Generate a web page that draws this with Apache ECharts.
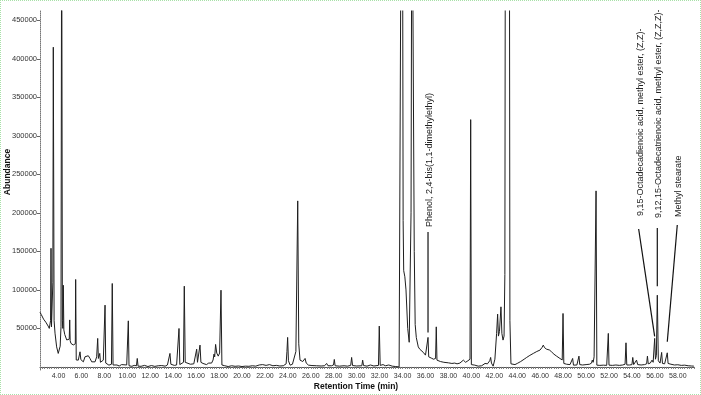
<!DOCTYPE html>
<html>
<head>
<meta charset="utf-8">
<script src="https://cdn.jsdelivr.net/npm/echarts@6/dist/echarts.min.js"></script>
<style>
html,body{margin:0;padding:0;background:#fff;}
#wrap{position:relative;width:701px;height:395px;}
#chart{width:701px;height:395px;}
#frame{position:absolute;left:0;top:0;width:701px;height:395px;box-sizing:border-box;border:1px dotted #a8e0a8;pointer-events:none;}
</style>
</head>
<body>
<div id="wrap"><div id="chart"></div><div id="frame"></div></div>
<script>
// Retention times (min)
const retentionTimes = [
2.39,2.5,2.6,2.7,2.8,2.9,3.0,3.1,3.2,3.27,3.31,3.35,3.39,3.45,3.51,3.55,3.62,3.7,3.84,3.98,
4.08,4.15,4.22,4.28,4.34,4.38,4.42,4.47,4.55,4.72,4.86,4.94,4.98,5.02,5.09,5.29,5.43,5.47,5.5,5.55,
5.59,5.73,5.88,5.95,6.03,6.17,6.31,6.46,6.6,6.75,6.9,7.04,7.19,7.33,7.42,7.48,7.56,7.6,7.66,7.71,
7.91,7.99,8.06,8.12,8.25,8.4,8.62,8.69,8.76,8.9,9.1,9.3,9.5,9.65,9.95,10.03,10.09,10.15,10.4,10.6,
10.8,10.87,10.94,11.2,11.5,11.8,12.1,12.4,12.7,13.0,13.3,13.5,13.66,13.72,13.8,14.1,14.3,14.45,14.51,14.58,
14.75,14.9,14.97,15.05,15.2,15.5,15.8,15.95,16.05,16.12,16.26,16.34,16.42,16.6,16.9,17.1,17.21,17.35,17.48,17.56,
17.62,17.7,17.8,17.93,18.05,18.17,18.25,18.5,18.8,19.1,19.4,19.7,20.0,20.3,20.6,20.9,21.2,21.5,21.8,22.1,
22.4,22.7,23.0,23.3,23.6,23.85,23.92,23.98,24.05,24.2,24.4,24.55,24.7,24.86,24.95,25.06,25.3,25.45,25.5,25.6,
25.8,26.1,26.5,26.9,27.2,27.38,27.5,27.8,27.98,28.05,28.12,28.5,28.9,29.2,29.48,29.56,29.64,30.0,30.45,30.52,
30.6,30.9,31.2,31.5,31.9,31.97,32.05,32.3,32.5,32.8,33.1,33.4,33.7,33.8,33.9,34.0,34.05,34.1,34.2,34.3,
34.45,34.58,34.66,34.74,34.82,34.95,35.02,35.1,35.2,35.37,35.5,35.6,35.66,35.8,36.0,36.15,36.22,36.28,36.5,36.7,
36.88,36.94,37.0,37.3,37.6,38.0,38.3,38.55,38.66,38.75,39.0,39.3,39.5,39.7,39.88,39.94,40.0,40.3,40.6,40.9,
41.19,41.4,41.6,41.68,41.75,41.9,42.05,42.2,42.29,42.36,42.45,42.58,42.66,42.76,42.85,42.92,42.98,43.3,43.36,43.45,
43.6,43.8,44.0,44.3,44.6,44.82,45.1,45.4,45.7,45.98,46.15,46.27,46.38,46.45,46.56,46.68,46.8,46.99,47.2,47.43,
47.72,47.92,47.99,48.06,48.3,48.6,48.77,48.83,48.9,49.2,49.32,49.38,49.45,49.7,50.0,50.3,50.48,50.54,50.62,50.7,
50.8,50.87,50.94,51.2,51.5,51.8,51.88,51.94,52.0,52.3,52.6,52.9,53.2,53.4,53.48,53.55,53.8,54.0,54.07,54.15,
54.3,54.4,54.5,54.8,55.1,55.28,55.35,55.42,55.6,55.75,55.85,55.98,56.05,56.13,56.21,56.3,56.45,56.59,56.66,56.85,
57.0,57.08,57.15,57.4,57.7,58.0,58.3,58.6,58.9,59.2,59.4
];
// Abundance values
const abundance = [
71000,68000,66000,62000,60500,58000,56000,53000,50000,47500,60000,154000,52000,50000,110000,415000,60000,43800,26000,17500,
20000,27000,52000,620000,60000,50000,106000,48000,42000,35000,32500,36000,61000,34000,30500,28500,26000,30000,113500,9000,
6600,8800,19600,9500,8000,6600,13100,15300,14500,11000,6600,4500,6600,13100,37000,11000,13000,17500,6000,4500,
8800,10000,80200,5000,3000,2300,3500,108300,2500,1500,2500,1200,3000,4500,2500,4000,59800,1500,800,2000,
1500,11000,1000,800,2000,500,1800,700,1500,1800,1000,2500,4000,17500,3500,2000,2500,4000,49900,3000,
3000,6000,104800,6000,4500,3500,4000,6000,23000,6000,8000,28300,6000,4500,3000,5000,6600,5000,9000,16600,
13000,29200,18000,14000,18000,99600,2500,1500,500,1500,800,1200,500,1000,800,1500,1000,2500,3000,2000,
3000,1500,2000,1200,1500,4000,20000,38300,8000,2300,3500,5000,20000,215500,30000,8800,7000,8500,11000,5000,
2300,1800,1500,1200,1500,4500,1500,1500,2500,9700,1500,1000,1500,1000,2000,12300,1800,1200,1500,8800,
1800,1000,2500,1200,2000,53000,2000,3000,1500,2500,1000,500,0,1500,700000,600000,190000,125000,117000,100000,
50000,32000,30000,200000,700000,700000,150000,55000,38000,26000,23000,25000,21800,19000,15300,16000,38300,13100,11500,10000,
11000,52000,8800,7000,6000,5300,4500,5000,7500,4000,5000,8800,6000,8000,10000,321000,3000,2300,1000,1500,
4500,4000,8000,12300,5000,1000,10000,43500,68500,40000,46000,78000,43500,34800,40000,120000,800000,800000,60000,4000,
2300,3000,4500,7000,10000,12300,15000,17500,20000,21800,25000,28300,25000,26000,23000,24000,22000,19600,16500,14000,
11000,9000,69400,4500,3500,3000,3500,11000,2300,2500,3500,14000,3000,2500,3000,3500,5000,8800,6000,13100,
15000,228500,2300,2000,2300,2000,4000,43500,2300,2000,2500,2000,2500,3500,31300,2500,2500,3000,12300,3000,
3500,8800,3000,2500,3000,4000,14000,4000,5000,8800,6000,37000,10000,15000,93100,8000,5000,18800,4500,4000,
5000,18300,4500,3500,2500,2800,2000,2300,1500,1200,1000
];
// Axis tick labels
const xTickLabels = [4,6,8,10,12,14,16,18,20,22,24,26,28,30,32,34,36,38,40,42,44,46,48,50,52,54,56,58];
const yTickLabels = [50000,100000,150000,200000,250000,300000,350000,400000,450000];
// Annotated peaks
const peakNames = [
  'Phenol, 2,4-bis(1,1-dimethylethyl)',
  '9,15-Octadecadienoic acid, methyl ester, (Z,Z)-',
  '9,12,15-Octadecatrienoic acid, methyl ester, (Z,Z,Z)-',
  'Methyl stearate'
];
const peakTimes = [36.22, 55.98, 56.21, 57.08];
const peakHeights = [38300, 37000, 93100, 18300];

// layout of annotation labels (pixels)
const annoLayout = [
  {dxTop: 0,   yTop: 232, gap: 5,  textDx: 1.5, textBottom: 227},
  {dxTop: -16, yTop: 229, gap: 2,  textDx: 1.5, textBottom: 216},
  {dxTop: 0,   yTop: 228, gap: 9,  textDx: 1.5, textBottom: 218},
  {dxTop: 10,  yTop: 225, gap: 11, textDx: 1.5, textBottom: 217}
];

const xMinor = [];
for (let v = 2.4; v <= 59.41; v += 0.2) xMinor.push(Math.round(v * 10) / 10);

const series = retentionTimes.map((t, i) => [t, abundance[i]]);

const chart = echarts.init(document.getElementById('chart'), null, {renderer: 'canvas'});
chart.setOption({
  animation: false,
  backgroundColor: '#fff',
  grid: {left: 40, right: 7, top: 11, bottom: 25, containLabel: false},
  xAxis: {
    type: 'value', min: 2.39, max: 59.41,
    axisLine: {show: true, lineStyle: {color: '#555', width: 1}},
    axisTick: {show: true, length: 2, customValues: xMinor, lineStyle: {color: '#777'}},
    axisLabel: {customValues: xTickLabels, formatter: v => v.toFixed(2), fontSize: 7, color: '#333', margin: 3, fontFamily: 'Liberation Sans'},
    splitLine: {show: false}
  },
  yAxis: {
    type: 'value', min: -4000, max: 462000,
    axisLine: {show: true, lineStyle: {color: '#777', width: 1, type: 'dotted'}},
    axisTick: {show: true, length: 3, customValues: yTickLabels, lineStyle: {color: '#666'}},
    axisLabel: {customValues: yTickLabels, formatter: v => String(v), fontSize: 7.5, color: '#333', margin: 3, fontFamily: 'Liberation Sans'},
    splitLine: {show: false}
  },
  series: [{
    type: 'line', data: series, showSymbol: false, symbol: 'none',
    lineStyle: {color: '#1e1e1e', width: 1}, clip: true
  }]
});

const els = [];
peakNames.forEach((name, i) => {
  const p = chart.convertToPixel({gridIndex: 0}, [peakTimes[i], peakHeights[i]]);
  const L = annoLayout[i];
  const topX = p[0] + L.dxTop;
  els.push({type: 'line', shape: {x1: topX, y1: L.yTop, x2: p[0], y2: p[1] - L.gap}, style: {stroke: '#111', lineWidth: 1.2}, silent: true});
  els.push({type: 'text', x: topX + L.textDx, y: L.textBottom, rotation: Math.PI / 2,
    style: {text: name, fill: '#222', font: '9px "Liberation Sans"', textAlign: 'left', textVerticalAlign: 'middle'}, silent: true});
});
els.push({type: 'text', x: 8, y: 172, rotation: Math.PI / 2,
  style: {text: 'Abundance', fill: '#111', font: 'bold 8.5px "Liberation Sans"', textAlign: 'center', textVerticalAlign: 'middle'}});
els.push({type: 'text', x: 356, y: 387,
  style: {text: 'Retention Time (min)', fill: '#111', font: 'bold 8.5px "Liberation Sans"', textAlign: 'center', textVerticalAlign: 'middle'}});
chart.setOption({graphic: {elements: els}});
</script>
</body>
</html>
